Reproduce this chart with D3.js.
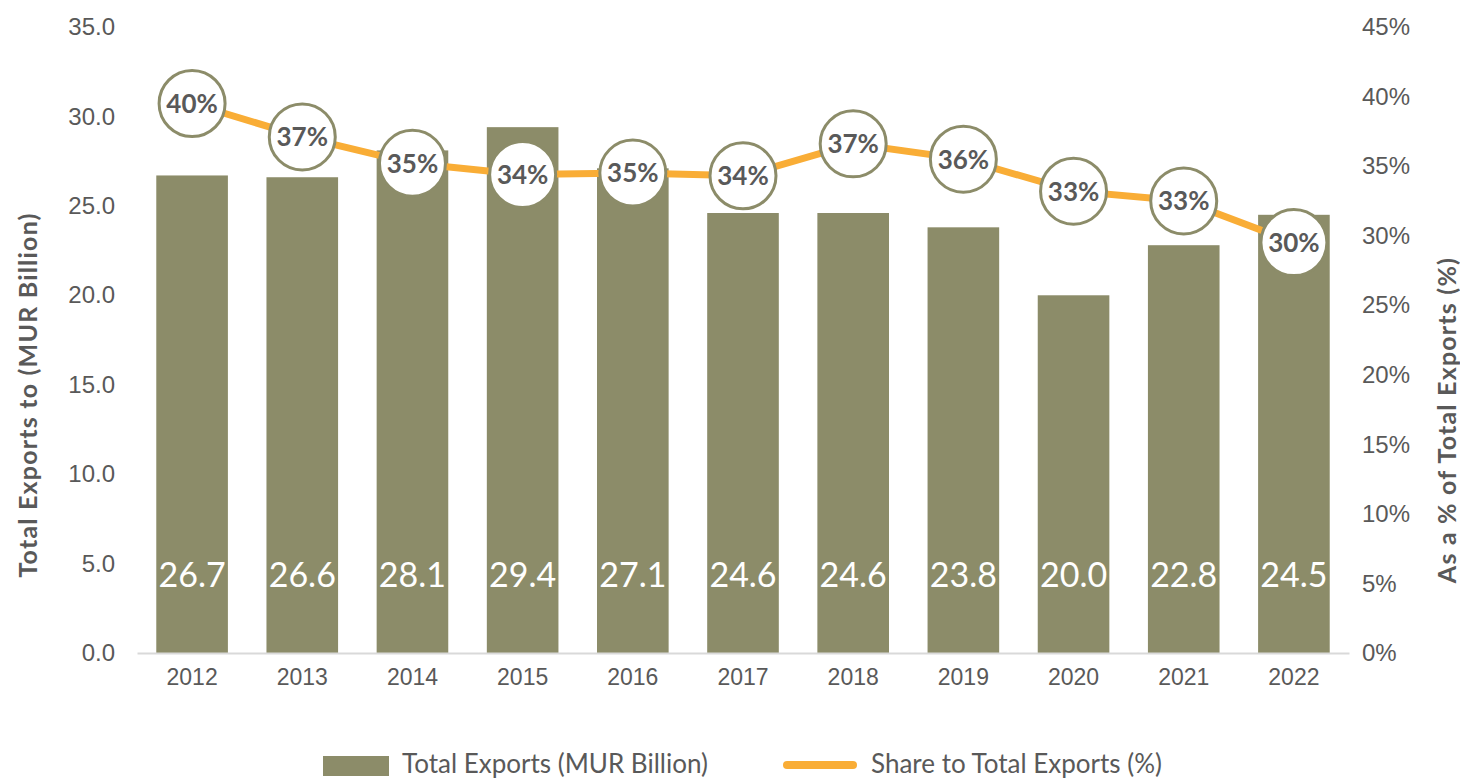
<!DOCTYPE html>
<html>
<head>
<meta charset="utf-8">
<script src="https://cdn.jsdelivr.net/npm/d3@7"></script>
<style>
  body { margin: 0; background: #fff; }
  svg { display: block; font-family: Lato, "Open Sans", sans-serif; }
</style>
</head>
<body>
<svg id="chart" width="1460" height="779"></svg>
<script>
// Data
const years = ["2012","2013","2014","2015","2016","2017","2018","2019","2020","2021","2022"];
const exportsBn = [26.7, 26.6, 28.1, 29.4, 27.1, 24.6, 24.6, 23.8, 20.0, 22.8, 24.5];
const sharePct = [39.5, 37.1, 35.2, 34.4, 34.5, 34.3, 36.6, 35.5, 33.2, 32.5, 29.5];
const leftTicks = [0, 5, 10, 15, 20, 25, 30, 35];
const rightTicks = [0, 5, 10, 15, 20, 25, 30, 35, 40, 45];

const barCol = "#8c8c69";
const lineCol = "#f9ad36";
const textCol = "#595959";

const svg = d3.select("#chart");
const margin = {top: 27, left: 137, right: 111, bottom: 126};
const W = 1460, H = 779;
const innerW = W - margin.left - margin.right;
const innerH = H - margin.top - margin.bottom;

const g = svg.append("g").attr("transform", `translate(${margin.left},${margin.top})`);

// scales
const x = d3.scaleBand().domain(years).range([0, innerW]).paddingInner(0.35).paddingOuter(0.175);
const yL = d3.scaleLinear().domain([0, 35]).range([innerH, 0]);
const yR = d3.scaleLinear().domain([0, 45]).range([innerH, 0]);

// left axis
const leftAx = g.append("g")
    .call(d3.axisLeft(yL).tickValues(leftTicks).tickFormat(d3.format(".1f")).tickSize(0).tickPadding(22))
leftAx.select(".domain").remove();
leftAx.selectAll("text").attr("font-size", 24).attr("fill", textCol).attr("font-family", null);

// right axis
const rightAx = g.append("g")
    .attr("transform", `translate(${innerW},0)`)
    .call(d3.axisRight(yR).tickValues(rightTicks).tickFormat(d => d + "%").tickSize(0).tickPadding(13))
rightAx.select(".domain").remove();
rightAx.selectAll("text").attr("font-size", 24).attr("fill", textCol).attr("font-family", null);

// bars
g.append("g").selectAll("rect")
    .data(exportsBn)
    .join("rect")
    .attr("x", (d, i) => x(years[i]))
    .attr("width", x.bandwidth())
    .attr("y", d => yL(d))
    .attr("height", d => innerH - yL(d))
    .attr("fill", barCol);

// bar labels
g.append("g").selectAll("text")
    .data(exportsBn)
    .join("text")
    .attr("x", (d, i) => x(years[i]) + x.bandwidth() / 2)
    .attr("y", innerH - 66)
    .attr("text-anchor", "middle")
    .attr("font-size", 34)
    .attr("fill", "#fff")
    .text(d => d3.format(".1f")(d));

// x axis
const xAx = g.append("g")
    .attr("transform", `translate(0,${innerH})`)
    .call(d3.axisBottom(x).tickSize(0).tickPadding(16));
xAx.select(".domain").attr("stroke", "#d9d9d9").attr("stroke-width", 2);
xAx.selectAll("text").attr("font-size", 23).attr("fill", textCol).attr("font-family", null);

// share line
const line = d3.line()
    .x((d, i) => x(years[i]) + x.bandwidth() / 2)
    .y(d => yR(d));

g.append("path")
    .datum(sharePct)
    .attr("d", line)
    .attr("fill", "none")
    .attr("stroke", lineCol)
    .attr("stroke-width", 7);

const markers = g.append("g").selectAll("g")
    .data(sharePct)
    .join("g")
    .attr("transform", (d, i) => `translate(${x(years[i]) + x.bandwidth() / 2},${yR(d)})`);

markers.append("circle")
    .attr("r", 33)
    .attr("fill", "#fff")
    .attr("stroke", barCol)
    .attr("stroke-width", 3);

markers.append("text")
    .attr("text-anchor", "middle")
    .attr("dy", "0.36em")
    .attr("font-size", 26)
    .attr("font-weight", "bold")
    .attr("fill", textCol)
    .text(d => Math.round(d) + "%");

// axis titles
svg.append("text")
    .attr("transform", `translate(37,${395})rotate(-90)`)
    .attr("text-anchor", "middle")
    .attr("font-size", 25)
    .attr("font-weight", "bold")
    .attr("letter-spacing", 1.2)
    .attr("fill", textCol)
    .text("Total Exports to (MUR Billion)");

svg.append("text")
    .attr("transform", `translate(1456,${420})rotate(-90)`)
    .attr("text-anchor", "middle")
    .attr("font-size", 25)
    .attr("font-weight", "bold")
    .attr("letter-spacing", 1.2)
    .attr("fill", textCol)
    .text("As a % of Total Exports (%)");

// legend
const legend = svg.append("g").attr("transform", "translate(0,764)");
legend.append("rect")
    .attr("x", 323).attr("y", -8).attr("width", 66).attr("height", 20)
    .attr("fill", barCol);
legend.append("text")
    .attr("x", 402).attr("y", 0).attr("dy", "0.34em")
    .attr("font-size", 26).attr("fill", textCol)
    .text("Total Exports (MUR Billion)");
legend.append("line")
    .attr("x1", 787).attr("x2", 853).attr("y1", 1).attr("y2", 1)
    .attr("stroke", lineCol).attr("stroke-width", 8).attr("stroke-linecap", "round");
legend.append("text")
    .attr("x", 871).attr("y", 0).attr("dy", "0.34em")
    .attr("font-size", 26).attr("fill", textCol)
    .text("Share to Total Exports (%)");
</script>
</body>
</html>
